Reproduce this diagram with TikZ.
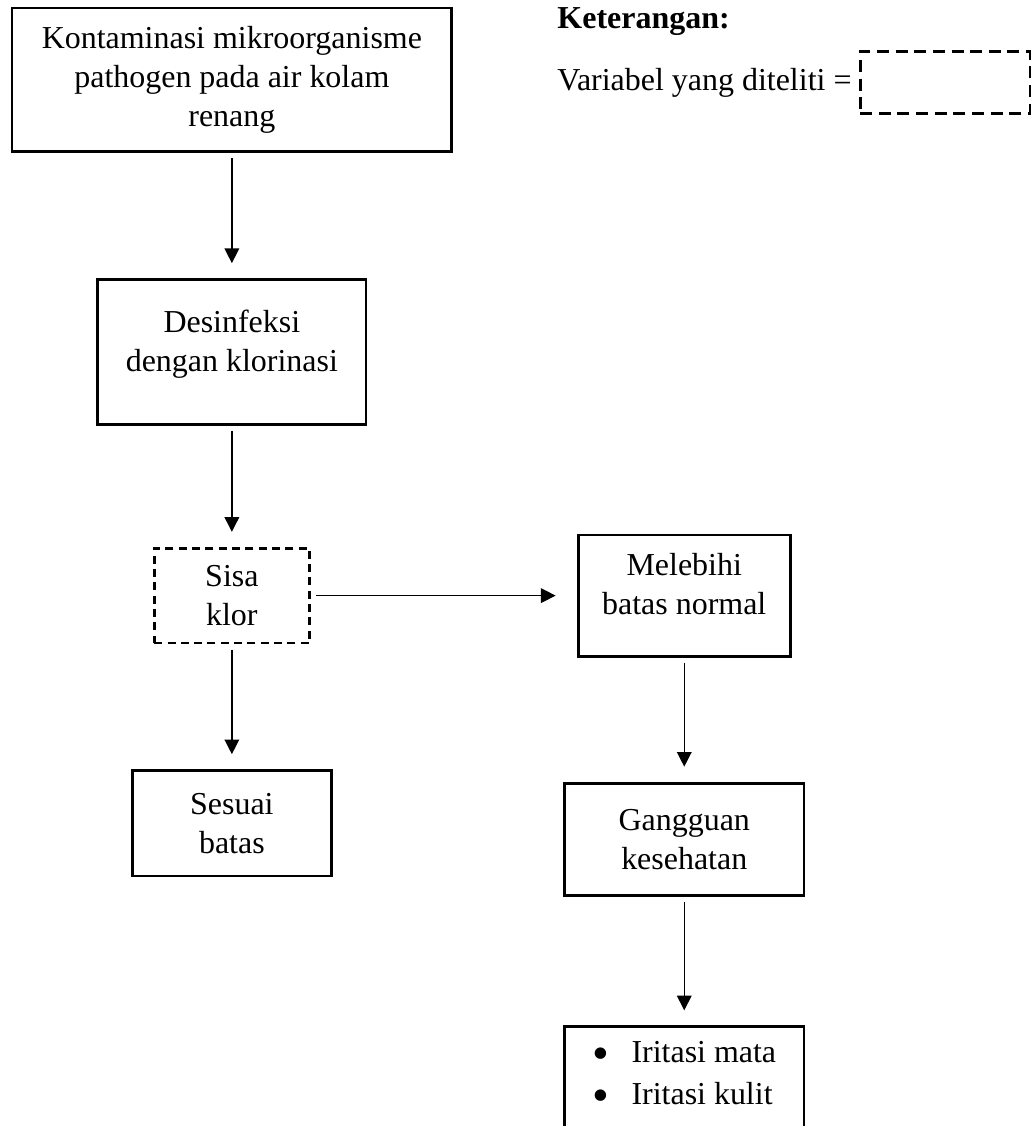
\documentclass[tikz,border=0pt]{standalone}
\usepackage{fontspec}
\setmainfont{Liberation Serif}
\usepackage{tikz}
\usetikzlibrary{positioning}
\usetikzlibrary{arrows.meta}

\newcommand{\bigdot}{\smash{\raisebox{-2.6pt}{\fontsize{18}{14.6}\selectfont\textbullet}}}

\begin{document}
\begin{tikzpicture}[ align = center
                   , node distance = 1.6cm and 3.5cm
                   , font = \fontsize{12}{14.6}\selectfont
                   , >={Triangle[width=5.5pt, length=5.5pt]}
                   , every node/.style = { rectangle
                                       , inner sep = 0pt
                                       , align = center }
                   ]

    \tikzset{ box/.style = {draw = black, line width = 1pt}
            , varbox/.style = {box, dash pattern = on 3pt off 2pt}
            , lifted/.style = {text depth = 0.3cm}
            , flow/.style = {->, line width = 0.5pt, shorten < = 0.07cm, shorten > = 0.2cm}}

    \useasboundingbox (0,0) rectangle (13.61,-14.86);
    %%
    %% Nodes
    %%
    \node (kontam)  [box, minimum width = 5.8cm, minimum height = 1.89cm]
      at (3.06,-1.05) {Kontaminasi mikroorganisme\\ pathogen pada air kolam\\ renang};
    \node (desinf)  [box, lifted, minimum width = 3.54cm, minimum height = 1.91cm,
      below = 1.66cm of kontam]  {Desinfeksi\\ dengan klorinasi};
    \node (sisa)    [varbox, minimum width = 2.05cm, minimum height = 1.25cm,
      below = 1.6cm of desinf]   {Sisa\\ klor};
    \node (sesuai)  [box, minimum width = 2.63cm, minimum height = 1.39cm,
      below = 1.65cm of sisa]    {Sesuai\\ batas};
    \node (lebih)   [box, lifted, minimum width = 2.8cm, minimum height = 1.6cm,
      right = 3.51cm of sisa]    {Melebihi\\ batas normal};
    \node (ganggu)  [box, minimum width = 3.16cm, minimum height = 1.48cm,
      below = 1.64cm of lebih]   {Gangguan\\ kesehatan};
    \node (iritasi) [box, lifted, align = left, minimum width = 3.16cm, minimum height = 1.52cm,
      below = 1.7cm of ganggu]
      {\bigdot\hspace{0.7em}Iritasi mata\\[1pt] \bigdot\hspace{0.7em}Iritasi kulit};

    %% Keterangan
    \node (ket)    [anchor = base west] at (7.35,-0.37) {\textbf{Keterangan:}};
    \node (var)    [anchor = base west] at (7.35,-1.19) {Variabel yang diteliti =};
    \node (legbox) [varbox, dash pattern = on 4.5pt off 2.5pt,
      minimum width = 2.24cm, minimum height = 0.82cm, right = 0.09cm of var] {};

    %%
    %% Arrows
    %%
    \draw[flow] (kontam) edge (desinf);
    \draw[flow] (desinf) edge (sisa);
    \draw[flow] (sisa) edge (sesuai);
    \draw[flow, shorten > = 0.28cm] (sisa) edge (lebih);
    \draw[flow] (lebih) edge (ganggu);
    \draw[flow] (ganggu) edge (iritasi);
  \end{tikzpicture}
\end{document}
